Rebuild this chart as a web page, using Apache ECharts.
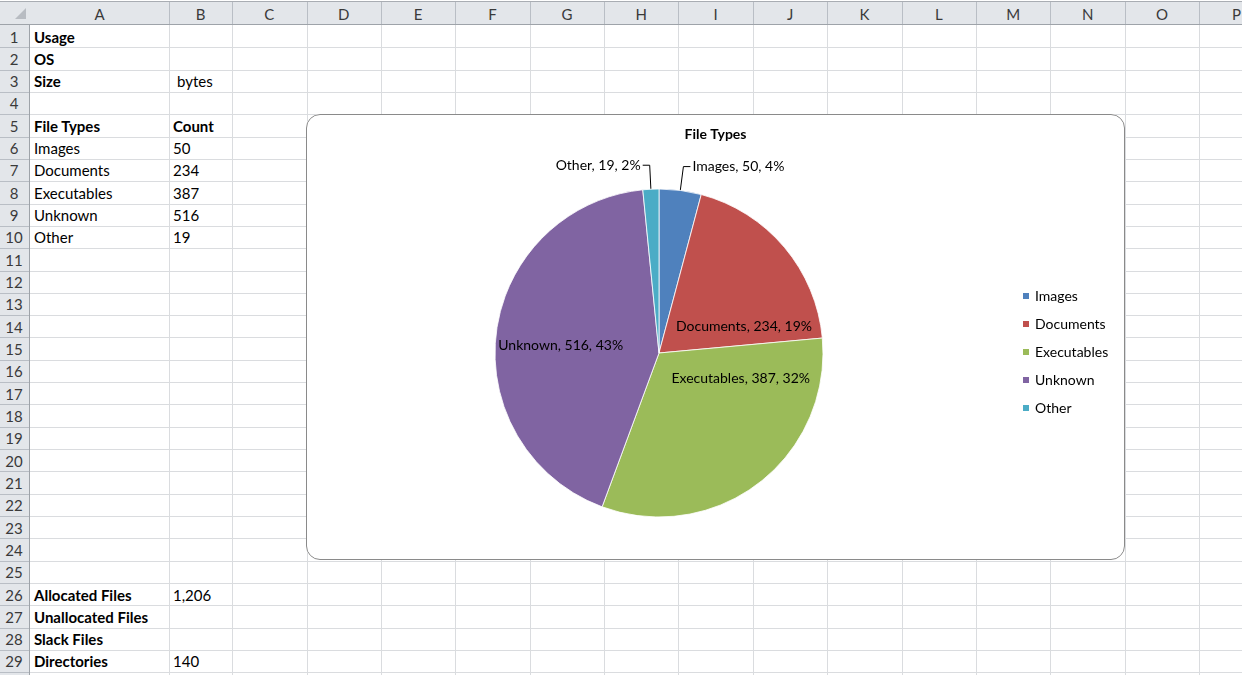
<!DOCTYPE html>
<html><head><meta charset="utf-8">
<script src="https://cdn.jsdelivr.net/npm/echarts@6/dist/echarts.min.js"></script>
<style>
html,body{margin:0;padding:0;width:1242px;height:675px;overflow:hidden;background:#fff;font-family:Lato,'Noto Sans',sans-serif;}
#sheet{position:absolute;left:0;top:0;width:1242px;height:675px;}
.ln{position:absolute;background:#dadcdf;}
.hd{position:absolute;background:#e3e6ea;}
.hdl{position:absolute;background:#b9bec5;}
.txt{position:absolute;font-size:15px;white-space:nowrap;color:#000;line-height:22px;}
.htxt{position:absolute;font-size:15px;white-space:nowrap;color:#3a3a3a;line-height:22px;text-align:center;}
#chart{position:absolute;left:306px;top:114px;width:819px;height:446px;background:#fff;border-radius:14px;overflow:hidden;}
#frame{position:absolute;left:306px;top:114px;width:819px;height:446px;border:1px solid #8a8a8a;border-radius:14px;box-sizing:border-box;pointer-events:none;}
</style>
</head><body>
<div id="sheet"></div>
<div id="chart"></div>
<div id="frame"></div>
<script>
// ---- data ----
const categories = ['Images', 'Documents', 'Executables', 'Unknown', 'Other'];
const counts = [50, 234, 387, 516, 19];
const chartTitle = 'File Types';
const columnLetters = ['A','B','C','D','E','F','G','H','I','J','K','L','M','N','O','P'];
const headerRowA = [[1,'Usage'],[2,'OS'],[3,'Size'],[5,'File Types'],[26,'Allocated Files'],[27,'Unallocated Files'],[28,'Slack Files'],[29,'Directories']];
const headerRowB = [[3,'bytes'],[5,'Count'],[26,'1,206'],[29,'140']];
const firstDataRow = 6;
const colors = ['#4F81BD', '#C0504D', '#9BBB59', '#8064A2', '#4BACC6'];

// ---- sheet grid ----
const sheet = document.getElementById('sheet');
function el(cls, l, t, w, h, text, extra) {
  const d = document.createElement('div');
  d.className = cls;
  d.style.left = l + 'px'; d.style.top = t + 'px';
  if (w != null) d.style.width = w + 'px';
  if (h != null) d.style.height = h + 'px';
  if (text != null) d.textContent = text;
  if (extra) Object.assign(d.style, extra);
  sheet.appendChild(d);
  return d;
}
const colX = [30, 169, 232, 306.5];
while (colX.length < columnLetters.length + 2) colX.push(colX[colX.length - 1] + 74.4);
const headTop = 25, rowH = 22.32, nRows = 30;
const rowY = [];
for (let k = 0; k <= nRows; k++) rowY.push(headTop + k * rowH);

// headers background
el('hd', 0, 2, 1242, headTop - 2);
el('hd', 0, headTop, 30, 675 - headTop);
el('hdl', 0, 1, 1242, 1, null, {background:'#a9adb3'});
el('hdl', 0, headTop - 1, 1242, 1, null, {background:'#9ea3a9'});
el('hdl', 29, headTop, 1, 675 - headTop, null, {background:'#9ea3a9'});
// corner triangle
el('', 15, 8, 0, 0, null, {position:'absolute', width:'0', height:'0', borderLeft:'11px solid transparent', borderBottom:'11px solid #b8bcc2'});
// column headers
for (let i = 0; i < columnLetters.length; i++) {
  const x0 = colX[i], x1 = colX[i + 1];
  el('hdl', Math.round(x1), 2, 1, headTop - 3);
  el('htxt', x0, 3, x1 - x0, 22, columnLetters[i]);
}
// row headers
for (let k = 1; k <= nRows; k++) {
  el('hdl', 0, Math.round(rowY[k]), 29, 1);
  el('htxt', 0, rowY[k - 1] + 0.5, 28, 22, String(k));
}
// grid lines
for (let k = 1; k <= nRows; k++) el('ln', 30, Math.round(rowY[k]), 1212, 1);
for (let i = 1; i < colX.length; i++) el('ln', Math.round(colX[i]), headTop, 1, 675 - headTop);

// cell text
function cellText(col, row, text, bold, pad) {
  el('txt', colX[col] + (pad || 4), rowY[row - 1] + 0.5, null, 22, text, bold ? {fontWeight:'bold'} : null);
}
headerRowA.forEach(([r, t]) => cellText(0, r, t, true));
headerRowB.forEach(([r, t]) => cellText(1, r, t, r === 5, r === 3 ? 8 : 4));
categories.forEach((c, i) => cellText(0, firstDataRow + i, c, false));
counts.forEach((v, i) => cellText(1, firstDataRow + i, String(v), false));

// ---- chart ----
const chart = echarts.init(document.getElementById('chart'), null, {renderer: 'canvas'});
const insideShift = {1: [20, 28], 2: [30, -42], 3: [-14, 3]};
const outside = {0: true, 4: true};
chart.setOption({
  animation: false,
  backgroundColor: '#fff',
  color: colors,
  title: {
    text: chartTitle, left: 'center', top: 13, padding: 0,
    textStyle: {fontFamily: 'Lato', fontWeight: 'bold', fontSize: 14, color: '#000'}
  },
  legend: {
    orient: 'vertical', left: 715, top: 174, padding: 0,
    itemWidth: 8, itemHeight: 8, itemGap: 12, icon: 'rect',
    data: categories,
    textStyle: {fontFamily: 'Lato', fontSize: 14, color: '#000', lineHeight: 16}
  },
  series: [{
    type: 'pie',
    center: [353, 239],
    radius: 164,
    startAngle: 90,
    clockwise: true,
    percentPrecision: 0,
    avoidLabelOverlap: false,
    itemStyle: {borderColor: '#ffffff', borderWidth: 0.8},
    label: {
      formatter: '{b}, {c}, {d}%',
      fontFamily: 'Lato', fontSize: 14, color: '#000',
      distanceToLabelLine: 2
    },
    labelLine: {show: true, length: 24, length2: 7, smooth: false, lineStyle: {color: '#000', width: 1}},
    labelLayout: function (p) {
      const s = insideShift[p.dataIndex];
      return s ? {dx: s[0], dy: s[1]} : {};
    },
    emphasis: {disabled: true},
    data: categories.map((c, i) => ({
      name: c, value: counts[i],
      label: {position: outside[i] ? 'outside' : 'inside'},
      labelLine: {show: !!outside[i]}
    }))
  }]
});
</script>
</body></html>
